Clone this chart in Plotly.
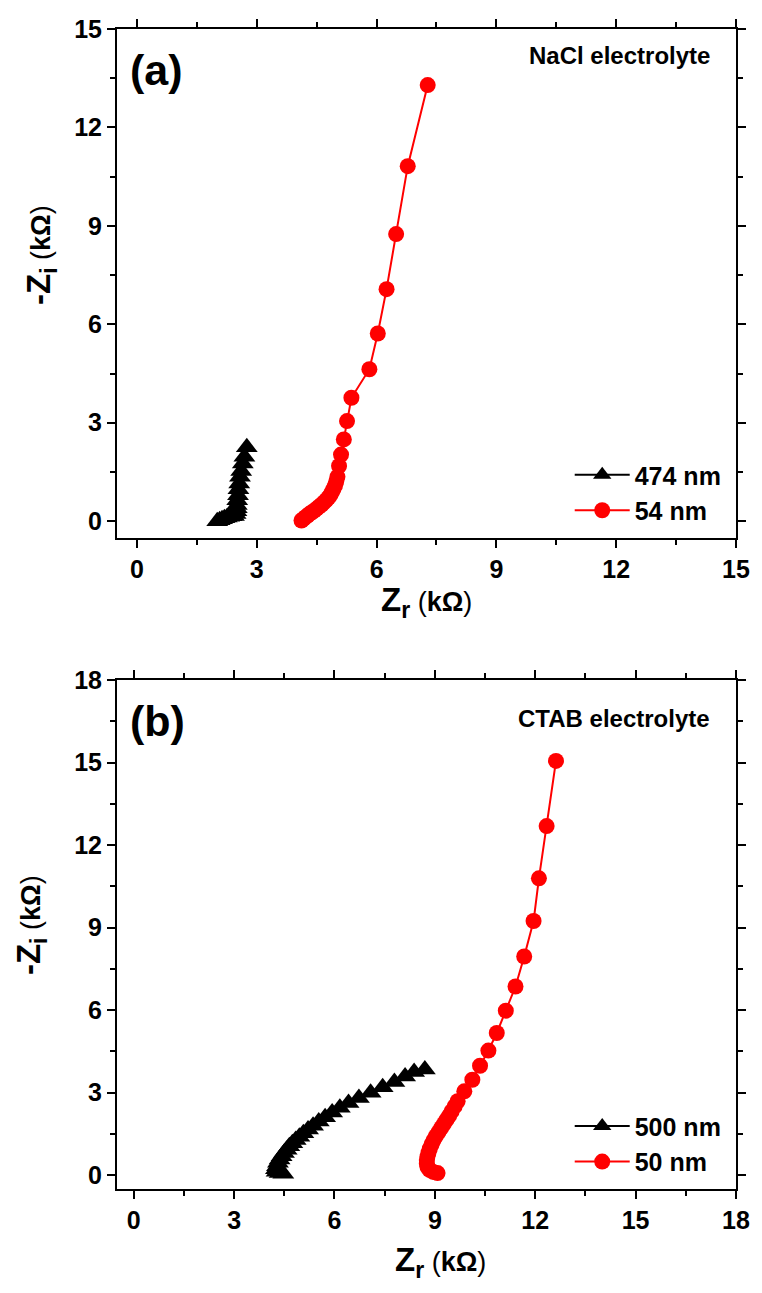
import plotly.graph_objects as go

FONT = "Liberation Sans, Arial, sans-serif"

# ---- Panel (a): NaCl electrolyte ----
nacl_474_zr = [2.01, 2.07, 2.13, 2.19, 2.25, 2.31, 2.37, 2.43, 2.47, 2.49, 2.50,
               2.50, 2.51, 2.53, 2.54, 2.56, 2.58, 2.61, 2.65, 2.69, 2.75]
nacl_474_zi = [0.00, 0.03, 0.06, 0.09, 0.11, 0.13, 0.15, 0.16, 0.22, 0.30, 0.39,
               0.49, 0.64, 0.79, 0.97, 1.15, 1.35, 1.53, 1.76, 1.96, 2.25]

nacl_54_zr = [4.12, 4.17, 4.22, 4.27, 4.32, 4.38, 4.44, 4.50, 4.56, 4.62, 4.68,
              4.74, 4.79, 4.84, 4.88, 4.92, 4.96, 4.99, 5.02, 5.06, 5.11, 5.18,
              5.26, 5.37, 5.82, 6.03, 6.25, 6.49, 6.78, 7.28]
nacl_54_zi = [0.02, 0.07, 0.12, 0.17, 0.22, 0.27, 0.32, 0.38, 0.44, 0.50, 0.57,
              0.64, 0.71, 0.79, 0.88, 0.98, 1.09, 1.21, 1.35, 1.68, 2.03, 2.49,
              3.05, 3.76, 4.63, 5.72, 7.07, 8.75, 10.82, 13.29]

# ---- Panel (b): CTAB electrolyte ----
ctab_500_zr = [4.47, 4.36, 4.27, 4.25, 4.28, 4.31, 4.36, 4.42, 4.49, 4.57, 4.65,
               4.74, 4.84, 4.95, 5.07, 5.21, 5.36, 5.53, 5.72, 5.93, 6.16, 6.42,
               6.73, 7.08, 7.44, 7.79, 8.11, 8.38, 8.70]
ctab_500_zi = [0.05, 0.08, 0.13, 0.22, 0.33, 0.45, 0.57, 0.69, 0.81, 0.93, 1.05,
               1.16, 1.28, 1.40, 1.53, 1.66, 1.80, 1.95, 2.11, 2.28, 2.45, 2.63,
               2.81, 3.00, 3.20, 3.39, 3.59, 3.75, 3.84]

ctab_50_zr = [9.08, 8.95, 8.84, 8.78, 8.76, 8.76, 8.78, 8.81, 8.85, 8.90, 8.96,
              9.03, 9.11, 9.19, 9.27, 9.35, 9.43, 9.50, 9.59, 9.68, 9.88, 10.12,
              10.35, 10.60, 10.85, 11.12, 11.41, 11.67, 11.95, 12.11, 12.34, 12.62]
ctab_50_zi = [0.08, 0.12, 0.20, 0.30, 0.42, 0.55, 0.68, 0.82, 0.97, 1.12, 1.27,
              1.42, 1.57, 1.72, 1.87, 2.02, 2.17, 2.32, 2.50, 2.69, 3.05, 3.47,
              3.98, 4.53, 5.17, 5.98, 6.86, 7.95, 9.24, 10.79, 12.69, 15.06]

fig = go.Figure()


def add_series(x, y, name, color, symbol, size, xa, ya, legend):
    fig.add_trace(go.Scatter(
        x=x, y=y, name=name, mode="lines+markers",
        line=dict(color=color, width=2),
        marker=dict(color=color, symbol=symbol, size=size, line=dict(width=0)),
        xaxis=xa, yaxis=ya, legend=legend,
    ))


add_series(nacl_474_zr, nacl_474_zi, "474 nm", "black", "triangle-up", 19, "x", "y", "legend")
add_series(nacl_54_zr, nacl_54_zi, "54 nm", "#ff0000", "circle", 16, "x", "y", "legend")
add_series(ctab_500_zr, ctab_500_zi, "500 nm", "black", "triangle-up", 19, "x2", "y2", "legend2")
add_series(ctab_50_zr, ctab_50_zi, "50 nm", "#ff0000", "circle", 16, "x2", "y2", "legend2")

tickfont = dict(family=FONT, size=25, color="black", weight="bold")


def axis(rng, domain=None, anchor=None):
    d = dict(
        range=rng, tick0=0, dtick=3, showline=True, linecolor="black", linewidth=2,
        mirror="allticks", ticks="outside", ticklen=8, tickwidth=2, tickcolor="black",
        showgrid=False, zeroline=False, tickfont=tickfont,
        minor=dict(ticks="outside", ticklen=5, tickwidth=2, tickcolor="black", dtick=1.5, tick0=0),
    )
    if domain is not None:
        d["domain"] = domain
    if anchor is not None:
        d["anchor"] = anchor
    return d


legend_font = dict(family=FONT, size=25, color="black", weight="bold")

fig.update_layout(
    width=762, height=1293,
    margin=dict(l=117, r=18, t=29, b=104),
    paper_bgcolor="white", plot_bgcolor="white",
    xaxis=axis([-0.5, 15], anchor="y"),
    yaxis=axis([-0.5, 15], domain=[0.5616, 1.0], anchor="x"),
    xaxis2=axis([-0.5, 18], anchor="y2"),
    yaxis2=axis([-0.5, 18], domain=[0.0, 0.4388], anchor="x2"),
    legend=dict(x=0.985, y=0.5655, xanchor="right", yanchor="bottom",
                bgcolor="rgba(0,0,0,0)", font=legend_font, itemwidth=55, tracegroupgap=0),
    legend2=dict(x=0.985, y=0.004, xanchor="right", yanchor="bottom",
                 bgcolor="rgba(0,0,0,0)", font=legend_font, itemwidth=55, tracegroupgap=0),
)

title_font = dict(family=FONT, size=33, color="black")
xtitle = "<b>Z</b><sub><b>r</b></sub><span style='font-size:27px'> (<b>kΩ</b>)</span>"
ytitle = "<b>-Z</b><sub><b>i</b></sub><span style='font-size:27px'> (<b>kΩ</b>)</span>"


def note(text, xref, yref, x, y, size, xanchor="center", angle=0):
    return dict(text=text, xref=xref, yref=yref, x=x, y=y, showarrow=False,
                xanchor=xanchor, yanchor="middle", textangle=angle,
                font=dict(family=FONT, size=size, color="black"))


annotations = [
    # panel tags
    note("<b>(a)</b>", "x domain", "y domain", 0.018, 0.919, 43, "left"),
    note("<b>(b)</b>", "x2 domain", "y2 domain", 0.018, 0.919, 43, "left"),
    # electrolyte labels
    note("<b>NaCl electrolyte</b>", "x domain", "y domain", 0.962, 0.947, 24, "right"),
    note("<b>CTAB electrolyte</b>", "x2 domain", "y2 domain", 0.962, 0.925, 24, "right"),
    # axis titles
    note(xtitle, "paper", "paper", (431 - 117) / 627, (1189 - 602) / 1160, 33),
    note(xtitle, "paper", "paper", (445 - 117) / 627, (1189 - 1262) / 1160, 33),
    note(ytitle, "paper", "paper", (40 - 117) / 627, (1189 - 255) / 1160, 33, angle=-90),
    note(ytitle, "paper", "paper", (30 - 117) / 627, (1189 - 925) / 1160, 33, angle=-90),
]
fig.update_layout(annotations=annotations)

fig.write_html("out.html")
